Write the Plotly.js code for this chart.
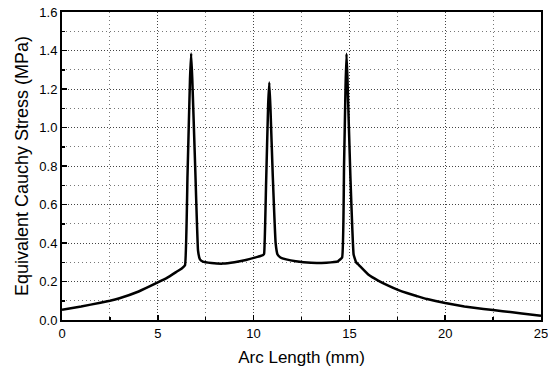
<!DOCTYPE html>
<html>
<head>
<meta charset="utf-8">
<script src="https://cdn.plot.ly/plotly-3.0.1.min.js"></script>
<style>html,body{margin:0;padding:0;background:#fff}#chart{width:548px;height:374px}</style>
</head>
<body>
<div id="chart"></div>
<script>
// Arc length (mm)
const arcLength = [0, 1, 2, 2.5, 3, 4, 5, 5.5, 6, 6.25, 6.42, 6.55, 6.68, 6.74, 6.8, 6.95, 7.1, 7.2, 7.35, 7.8, 8.4, 9.0, 9.6, 10.2, 10.5, 10.55, 10.65, 10.76, 10.82, 10.88, 11.0, 11.15, 11.25, 11.4, 11.7, 12.2, 13.0, 13.8, 14.4, 14.62, 14.72, 14.8, 14.85, 14.9, 15.05, 15.22, 15.35, 15.5, 16.0, 16.5, 17, 17.5, 18, 18.5, 19, 20, 21, 22, 23, 24, 25];
// Equivalent Cauchy stress (MPa)
const stress = [0.053, 0.07, 0.09, 0.10, 0.113, 0.148, 0.195, 0.22, 0.252, 0.268, 0.285, 0.75, 1.25, 1.385, 1.25, 0.8, 0.36, 0.315, 0.303, 0.296, 0.293, 0.30, 0.312, 0.328, 0.338, 0.345, 0.7, 1.12, 1.234, 1.1, 0.75, 0.4, 0.34, 0.325, 0.315, 0.305, 0.297, 0.298, 0.305, 0.325, 0.8, 1.22, 1.383, 1.25, 0.75, 0.34, 0.30, 0.285, 0.235, 0.205, 0.18, 0.158, 0.14, 0.125, 0.11, 0.088, 0.07, 0.057, 0.046, 0.034, 0.022];
const xTitle = 'Arc Length (mm)';
const yTitle = 'Equivalent Cauchy Stress (MPa)';

const font = 'Liberation Sans, Arial, sans-serif';
const gridStyle = {showgrid: true, gridcolor: '#444', griddash: '1px,2px', gridwidth: 1};
const minorGrid = {showgrid: true, gridcolor: '#777', griddash: '1px,3px', gridwidth: 1};

Plotly.newPlot('chart', [{
  x: arcLength, y: stress, type: 'scatter', mode: 'lines',
  line: {color: '#000', width: 2.5, shape: 'spline', smoothing: 0.3}
}], {
  width: 548, height: 374,
  margin: {l: 62, r: 7, t: 12, b: 54},
  paper_bgcolor: '#fff', plot_bgcolor: '#fff',
  showlegend: false,
  font: {family: font, color: '#000', size: 13},
  xaxis: Object.assign({
    range: [0, 25], dtick: 5, tick0: 0,
    ticks: 'inside', ticklen: 5, tickwidth: 1.5, tickcolor: '#000',
    showline: true, linecolor: '#000', linewidth: 2, mirror: true,
    zeroline: false, ticklabeloverflow: 'allow',
    tickfont: {size: 13, family: font},
    minor: Object.assign({dtick: 2.5, ticks: 'inside', ticklen: 3, tickcolor: '#000'}, minorGrid),
    title: {text: xTitle, font: {size: 17, family: font}, standoff: 12}
  }, gridStyle),
  yaxis: Object.assign({
    range: [0, 1.6], dtick: 0.2, tick0: 0, tickformat: '.1f',
    ticks: 'inside', ticklen: 5, tickwidth: 1.5, tickcolor: '#000',
    showline: true, linecolor: '#000', linewidth: 2, mirror: true,
    zeroline: false, ticklabeloverflow: 'allow',
    tickfont: {size: 13, family: font},
    minor: Object.assign({dtick: 0.1, ticks: 'inside', ticklen: 3, tickcolor: '#000'}, minorGrid),
    title: {text: yTitle, font: {size: 18, family: font}, standoff: 6}
  }, gridStyle)
}, {staticPlot: true});
</script>
</body>
</html>
